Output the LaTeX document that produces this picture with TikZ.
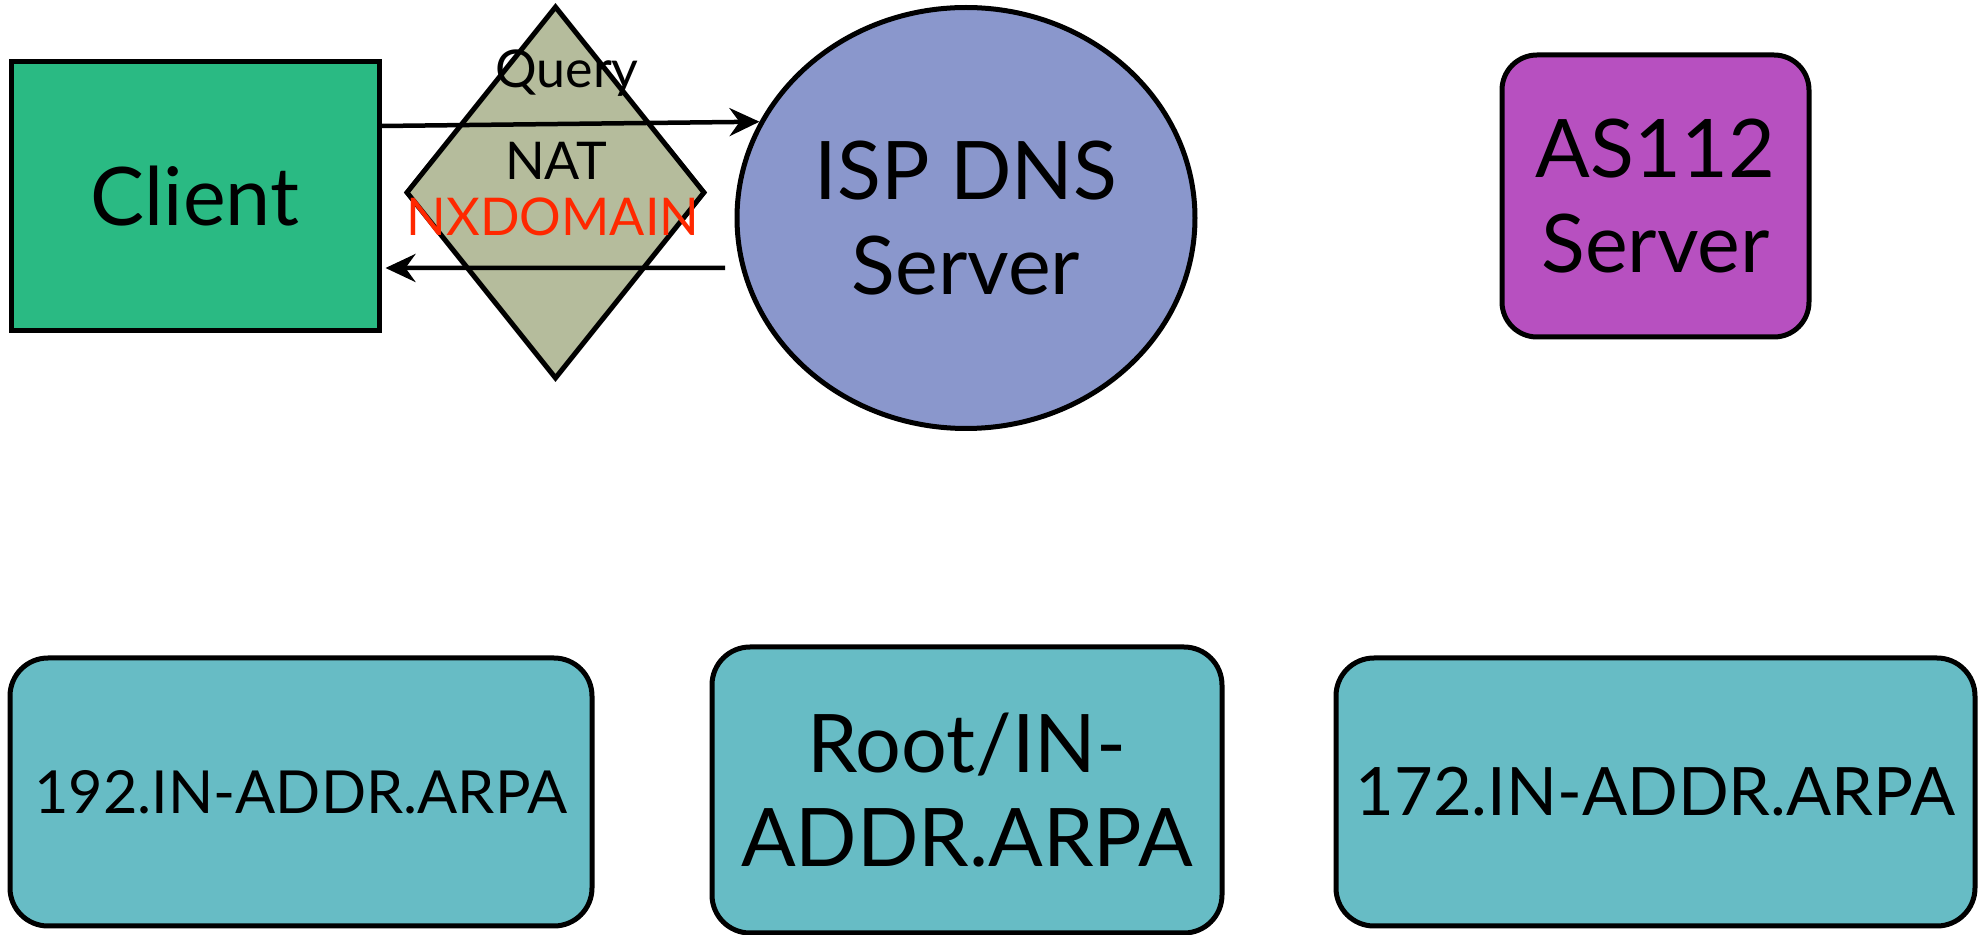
\documentclass[tikz,border=0pt]{standalone}
\usepackage{fontspec}
\setmainfont{Lato}
\usetikzlibrary{positioning,arrows.meta,shapes.geometric}
\definecolor{clientgreen}{RGB}{42,186,131}
\definecolor{natgrey}{RGB}{181,188,156}
\definecolor{ispblue}{RGB}{138,151,204}
\definecolor{asviolet}{RGB}{183,80,192}
\definecolor{arpateal}{RGB}{103,188,197}
\definecolor{nxred}{RGB}{255,40,0}
\tikzset{>={Stealth[length=3mm,width=2.8mm,inset=1mm]}}
\tikzset{
  box/.style={draw=black,line width=0.5mm,inner sep=0pt,align=center},
  bigtext/.style={font=\fontsize{23}{27}\selectfont},
  smalltext/.style={font=\fontsize{14.8}{17}\selectfont},
  flow/.style={->,line width=0.45mm},
}

\begin{document}
\begin{tikzpicture}[x=0.1mm,y=-0.1mm]
    \useasboundingbox (0,0) rectangle (1983,935);

    \node [box,bigtext,fill=clientgreen,minimum width=36.8mm,minimum height=26.9mm] (client) at (195,196.5) {Client};
    \node [box,diamond,fill=natgrey,minimum width=29.9mm,minimum height=37.3mm] (nat) at (555.5,192.5) {};
    \node [box,ellipse,bigtext,fill=ispblue,minimum width=45.8mm,minimum height=42.1mm] (isp) at (966,218) {ISP DNS\\Server};
    \node [box,rounded corners=3.5mm,bigtext,fill=asviolet,minimum width=30.7mm,minimum height=28.2mm] (as112) at (1655.5,196) {AS112\\Server};

    \node [smalltext,anchor=base] (query) at (567,88) {Query};
    \node [smalltext,anchor=base] (natlabel) at (556,180) {NAT};
    \node [smalltext,anchor=base,text=nxred] (nxdomain) at (553,236) {NXDOMAIN};

    \node [box,rounded corners=3.8mm,fill=arpateal,minimum width=58.2mm,minimum height=26.8mm,font=\fontsize{16.9}{20}\selectfont] (arpa192) at (301,792) {192.IN-ADDR.ARPA};
    \node [box,rounded corners=3.8mm,bigtext,fill=arpateal,minimum width=51mm,minimum height=28.6mm] (rootarpa) at (967,790) {Root/IN-\\ADDR.ARPA};
    \node [box,rounded corners=3.8mm,fill=arpateal,minimum width=63.9mm,minimum height=26.8mm,font=\fontsize{19}{22}\selectfont] (arpa172) at (1655.5,792) {172.IN-ADDR.ARPA};

    \coordinate (reply) at (725,268);
    \draw [flow] ([yshift=7.05mm]client.east) -- (isp.155);
    \draw [flow] (reply) -- ([xshift=0.4mm,yshift=-7.15mm]client.east);
\end{tikzpicture}
\end{document}
